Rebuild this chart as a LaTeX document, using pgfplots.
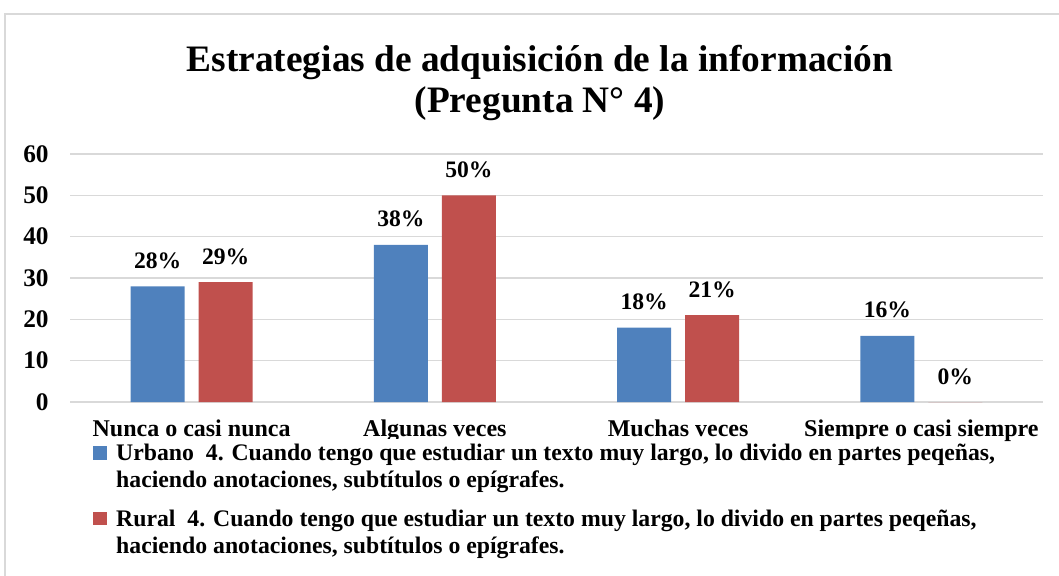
\documentclass[border=0pt]{standalone}
\usepackage{fontspec}
\setmainfont{Liberation Serif}
\usepackage{pgfplots}
\pgfplotsset{compat=1.18}
\definecolor{urbano}{RGB}{79,129,189}
\definecolor{rural}{RGB}{192,80,77}
\definecolor{gridgray}{RGB}{217,217,217}

\begin{document}
\begin{tikzpicture}
\useasboundingbox (0,0) rectangle (794.25pt,-431.25pt);
% chart frame (only left and top edges fall inside the image)
\draw[gridgray, line width=1pt] (3.75pt,-440pt) -- (3.75pt,-10.5pt) -- (800pt,-10.5pt);
\node[font=\bfseries\fontsize{28}{30.75}\selectfont, align=center] at (405pt,-62.6pt)
  {Estrategias de adquisición de la información\\(Pregunta N° 4)};

\begin{axis}[
    at={(52.5pt,-301.5pt)}, anchor=south west,
    scale only axis, width=729.75pt, height=186pt,
    ybar=10.5pt, bar width=40.5pt,
    xmin=-0.5, xmax=3.5, ymin=0, ymax=60,
    xtick=data,
    xticklabels={Nunca o casi nunca, Algunas veces, Muchas veces, Siempre o casi siempre},
    ytick={0,10,...,60},
    ymajorgrids, grid style={gridgray, line width=1.1pt},
    axis line style={draw=none},
    major tick length=0pt,
    /pgf/number format/assume math mode=true,
    yticklabel style={font=\bfseries\fontsize{19}{22}\selectfont, xshift=-12.5pt},
    xticklabel style={font=\bfseries\fontsize{18}{20}\selectfont, yshift=-9.5pt},
    nodes near coords={\pgfmathprintnumber{\pgfplotspointmeta}\%},
    every node near coord/.append style={font=\bfseries\fontsize{17.7}{20}\selectfont, anchor=base, yshift=13.5pt},
    legend style={at={(0.0195,-0.147)}, anchor=north west, draw=none,
      font=\bfseries\fontsize{17.8}{20.25}\selectfont,
      cells={anchor=west, align=left}, row sep=11pt},
    legend image code/.code={\fill[#1,draw=none] (0pt,5.5pt) rectangle (10pt,15.5pt);
      \path (15.25pt,10pt);},
]
\addplot[fill=urbano, draw=none]
  coordinates {(0,28) (1,38) (2,18) (3,16)};
\addlegendentry{Urbano~~4. Cuando tengo que estudiar un texto muy largo, lo divido en partes peqeñas,\\haciendo anotaciones, subtítulos o epígrafes.}
\addplot[fill=rural, draw=none]
  coordinates {(0,29) (1,50) (2,21) (3,0)};
\addlegendentry{Rural~~4. Cuando tengo que estudiar un texto muy largo, lo divido en partes peqeñas,\\haciendo anotaciones, subtítulos o epígrafes.}
\end{axis}
\end{tikzpicture}
\end{document}
